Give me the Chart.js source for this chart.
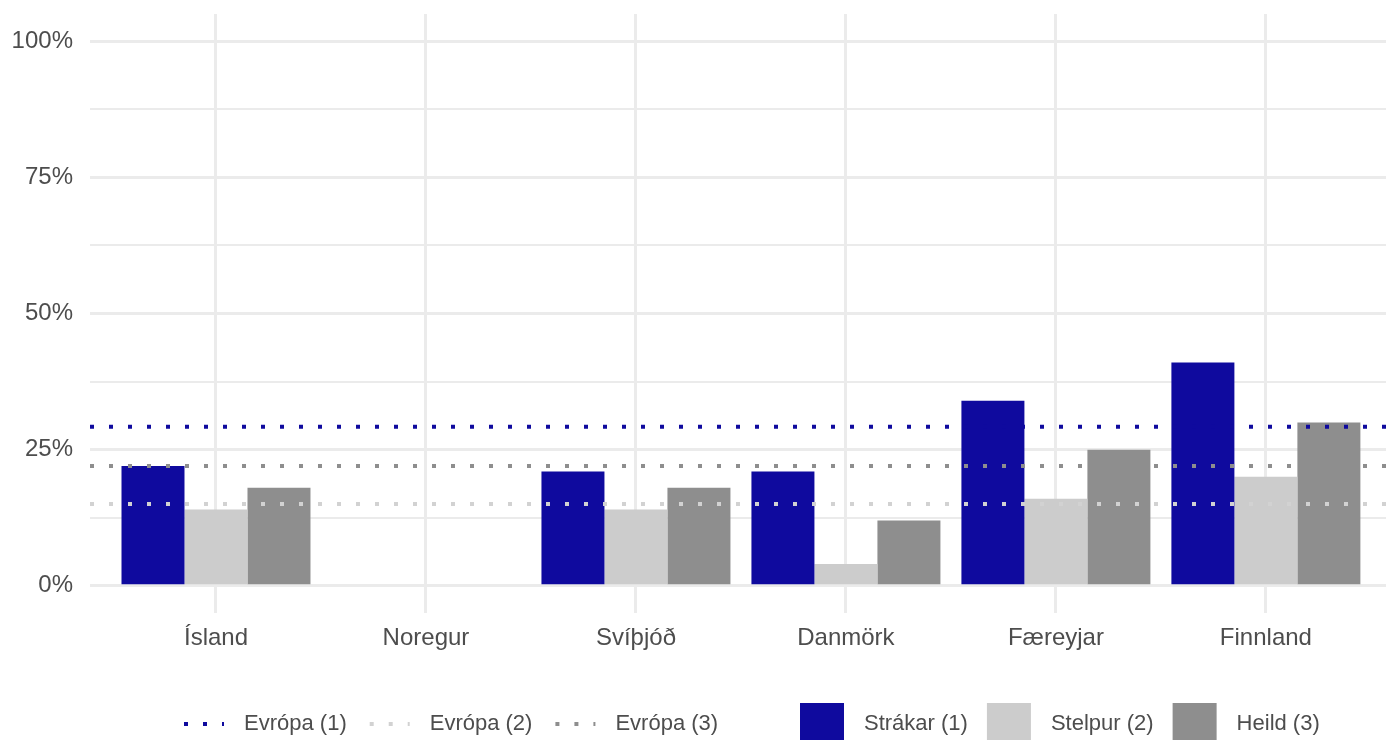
<!DOCTYPE html>
<html lang="is">
<head>
  <meta charset="UTF-8">
  <title>Evrópa samanburður</title>
  <script src="https://cdn.jsdelivr.net/npm/chart.js"></script>
  <style>
    body { margin: 0; background: #fff; }
    canvas { display: block; }
  </style>
</head>
<body>
  <canvas id="chart" width="1386" height="740"></canvas>
  <script>
    // data
    const countries = ['Ísland', 'Noregur', 'Svíþjóð', 'Danmörk', 'Færeyjar', 'Finnland'];
    const strakar = [22, null, 21, 21, 34, 41];
    const stelpur = [14, null, 14, 4, 16, 20];
    const heild   = [18, null, 18, 12, 25, 30];
    const seriesNames = ['Strákar (1)', 'Stelpur (2)', 'Heild (3)'];
    const europe = [29.2, 15, 22];
    const europeNames = ['Evrópa (1)', 'Evrópa (2)', 'Evrópa (3)'];
    const yTicks = [0, 12.5, 25, 37.5, 50, 62.5, 75, 87.5, 100];

    const barColors = ['#0f0a9e', '#cccccc', '#8e8e8e'];
    const lineColors = ['#0f0a9e', '#d2d2d2', '#8e8e8e'];
    const textColor = '#4d4d4d';
    const gridColor = '#ebebeb';
    const fontFamily = '"Liberation Sans", Arial, sans-serif';

    const xMin = 0.4, xMax = 6.572;

    const toPoints = arr => arr.map((v, i) => ({ x: i + 1, y: v }));

    const barSets = [strakar, stelpur, heild].map((vals, i) => ({
      type: 'bar',
      label: seriesNames[i],
      data: toPoints(vals),
      backgroundColor: barColors[i],
      borderWidth: 0,
      categoryPercentage: 0.9,
      barPercentage: 1,
      order: 1
    }));

    const lineSets = europe.map((v, i) => ({
      type: 'line',
      label: europeNames[i],
      data: [{ x: xMin, y: v }, { x: xMax, y: v }],
      borderColor: lineColors[i],
      borderWidth: 4,
      borderDash: [4, 15],
      borderCapStyle: 'butt',
      pointRadius: 0,
      fill: false,
      order: 0
    }));

    // legend drawn at the bottom, two groups like the original
    const bottomLegend = {
      id: 'bottomLegend',
      afterDraw(chart) {
        const ctx = chart.ctx;
        const cy = 724;
        ctx.save();
        ctx.font = '22px ' + fontFamily;
        ctx.textBaseline = 'middle';
        let x = 180;
        europeNames.forEach((name, i) => {
          ctx.strokeStyle = lineColors[i];
          ctx.lineWidth = 4;
          ctx.setLineDash([4, 15]);
          ctx.lineDashOffset = 15;
          ctx.beginPath();
          ctx.moveTo(x, cy);
          ctx.lineTo(x + 44, cy);
          ctx.stroke();
          ctx.setLineDash([]);
          ctx.fillStyle = textColor;
          ctx.fillText(name, x + 64, cy);
          x += 64 + ctx.measureText(name).width + 19;
        });
        x = 800;
        seriesNames.forEach((name, i) => {
          ctx.fillStyle = barColors[i];
          ctx.fillRect(x, 703, 44, 44);
          ctx.fillStyle = textColor;
          ctx.fillText(name, x + 64, cy);
          x += 64 + ctx.measureText(name).width + 19;
        });
        ctx.restore();
      }
    };

    Chart.defaults.font.family = fontFamily;
    Chart.defaults.color = textColor;

    new Chart(document.getElementById('chart').getContext('2d'), {
      type: 'bar',
      data: { datasets: [...lineSets, ...barSets] },
      options: {
        responsive: false,
        animation: false,
        layout: { padding: { top: 14, left: 0, right: 0, bottom: 0 } },
        plugins: {
          legend: { display: false },
          tooltip: { enabled: false }
        },
        scales: {
          x: {
            type: 'linear',
            min: xMin,
            max: xMax,
            offset: false,
            afterBuildTicks: s => { s.ticks = countries.map((c, i) => ({ value: i + 1 })); },
            afterFit: s => {
              s.height = 127;
              s.paddingLeft = 0;
              s.paddingRight = 0;
            },
            ticks: {
              autoSkip: false,
              maxRotation: 0,
              padding: 11,
              font: { size: 24 },
              color: textColor,
              callback: v => countries[v - 1]
            },
            grid: { color: gridColor, lineWidth: 3, drawTicks: false, offset: false },
            border: { display: false }
          },
          y: {
            min: -5,
            max: 105,
            afterBuildTicks: s => { s.ticks = yTicks.map(v => ({ value: v })); },
            afterFit: s => {
              s.width = 90;
              s.paddingTop = 0;
              s.paddingBottom = 0;
            },
            ticks: {
              autoSkip: false,
              padding: 17,
              font: { size: 24 },
              color: textColor,
              callback: v => (v % 25 === 0 ? v + '%' : '')
            },
            grid: {
              color: gridColor,
              lineWidth: c => (c.tick && c.tick.value % 25 === 0 ? 3 : 2),
              drawTicks: false
            },
            border: { display: false }
          }
        }
      },
      plugins: [bottomLegend]
    });
  </script>
</body>
</html>
